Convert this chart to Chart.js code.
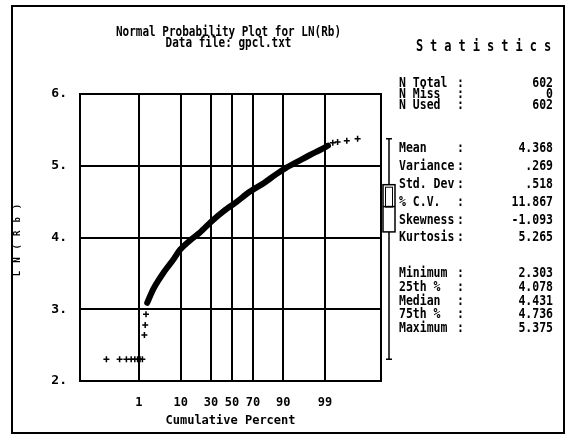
<!DOCTYPE html>
<html>
<head>
<meta charset="utf-8">
<script src="https://cdn.jsdelivr.net/npm/chart.js@4.4.1/dist/chart.umd.min.js"></script>
<style>
  body { margin: 0; background: #fff; }
  #wrap { width: 568px; height: 438px; position: relative; }
</style>
</head>
<body>
<div id="wrap"><canvas id="myChart" width="568" height="438"></canvas></div>
<script>
// Подписи оси X (накопленный процент)
const percentTicks = [1, 10, 30, 50, 70, 90, 99];
const percentLabels = ["1", "10", "30", "50", "70", "90", "99"];
const yTicks = [2, 3, 4, 5, 6];

// Плотная полоса точек: нормальные метки (z) и значения LN(Rb)
const bandScore = [-2.12, -1.95, -1.7, -1.47, -1.3, -1.05, -0.8, -0.5, -0.2, 0.1, 0.45, 0.8, 1.1, 1.35, 1.65, 1.95, 2.2, 2.4];
const bandValue = [3.09, 3.3, 3.52, 3.69, 3.83, 3.96, 4.07, 4.23, 4.37, 4.49, 4.64, 4.76, 4.88, 4.97, 5.06, 5.15, 5.22, 5.28];

// Отдельные точки на хвостах
const tailScore = [-3.14, -2.81, -2.64, -2.52, -2.43, -2.36, -2.3, -2.24, -2.19, -2.17, -2.15, 2.52, 2.64, 2.87, 3.14];
const tailValue = [2.303, 2.303, 2.303, 2.303, 2.303, 2.303, 2.303, 2.303, 2.64, 2.78, 2.93, 5.32, 5.33, 5.35, 5.375];

// Статистика
const statLabels = ["N Total", "N Miss", "N Used", "Mean", "Variance", "Std. Dev", "% C.V.", "Skewness", "Kurtosis", "Minimum", "25th %", "Median", "75th %", "Maximum"];
const statValues = ["602", "0", "602", "4.368", ".269", ".518", "11.867", "-1.093", "5.265", "2.303", "4.078", "4.431", "4.736", "5.375"];
const statRowY = [83, 94, 105, 148, 166, 184, 202, 220, 237, 273, 287, 301, 314, 328];
// Ящик с усами: минимум, 25%, медиана, 75%, максимум
const boxValues = [2.303, 4.078, 4.431, 4.736, 5.375];

const FONT = "'DejaVu Sans Mono', 'Liberation Mono', monospace";

// обратная функция нормального распределения (Acklam)
function probit(p) {
    const a = [-39.6968302866538, 220.946098424521, -275.928510446969, 138.357751867269, -30.6647980661472, 2.50662827745924];
    const b = [-54.4760987982241, 161.585836858041, -155.698979859887, 66.8013118877197, -13.2806815528857];
    const c = [-0.00778489400243029, -0.322396458041136, -2.40075827716184, -2.54973253934373, 4.37466414146497, 2.93816398269878];
    const d = [0.00778469570904146, 0.32246712907004, 2.445134137143, 3.75440866190742];
    let q, r;
    if (p < 0.02425) {
        q = Math.sqrt(-2 * Math.log(p));
        return (((((c[0]*q+c[1])*q+c[2])*q+c[3])*q+c[4])*q+c[5]) / ((((d[0]*q+d[1])*q+d[2])*q+d[3])*q+1);
    }
    if (p > 1 - 0.02425) {
        q = Math.sqrt(-2 * Math.log(1 - p));
        return -(((((c[0]*q+c[1])*q+c[2])*q+c[3])*q+c[4])*q+c[5]) / ((((d[0]*q+d[1])*q+d[2])*q+d[3])*q+1);
    }
    q = p - 0.5;
    r = q * q;
    return (((((a[0]*r+a[1])*r+a[2])*r+a[3])*r+a[4])*r+a[5])*q / (((((b[0]*r+b[1])*r+b[2])*r+b[3])*r+b[4])*r+1);
}

const tickScores = percentTicks.map(p => probit(p / 100));

// высокий узкий текст, как в старом шрифте
function tallText(ctx, text, x, y, align, size, sy) {
    ctx.save();
    ctx.translate(x, y);
    ctx.scale(1, sy);
    ctx.font = "bold " + size + "px " + FONT;
    ctx.textAlign = align;
    ctx.textBaseline = "middle";
    ctx.fillText(text, 0, 0);
    ctx.restore();
}

// рамка, заголовок, блок статистики, ящик с усами
const extras = {
    id: "extras",
    afterDraw(chart) {
        const ctx = chart.ctx;
        const area = chart.chartArea;
        const y = chart.scales.y;
        ctx.save();
        ctx.strokeStyle = "#000";
        ctx.fillStyle = "#000";
        // рамка области графика
        ctx.lineWidth = 2;
        ctx.strokeRect(area.left, area.top, area.right - area.left, area.bottom - area.top);
        // внешняя рамка
        ctx.strokeRect(12, 6, 552, 427);

        // заголовок
        const cx = (area.left + area.right) / 2 - 2;
        tallText(ctx, "Normal Probability Plot for LN(Rb)", cx, 33, "center", 11, 1.2);
        tallText(ctx, "Data file: gpcl.txt", cx, 44, "center", 11, 1.2);

        // подпись оси Y с разрядкой
        ctx.save();
        ctx.translate(18, 240);
        ctx.rotate(-Math.PI / 2);
        ctx.font = "bold 9px " + FONT;
        ctx.letterSpacing = "8px";
        ctx.textAlign = "center";
        ctx.textBaseline = "middle";
        ctx.fillText("LN(Rb)", 4, 0);
        ctx.restore();

        // статистика
        ctx.save();
        ctx.font = "bold 12px " + FONT;
        ctx.letterSpacing = "7px";
        ctx.textAlign = "center";
        ctx.textBaseline = "middle";
        ctx.translate(487, 47);
        ctx.scale(1, 1.25);
        ctx.fillText("Statistics", 0, 0);
        ctx.restore();
        statLabels.forEach((lab, i) => {
            const ry = statRowY[i];
            tallText(ctx, lab, 399, ry, "left", 11.5, 1.25);
            tallText(ctx, ":", 457, ry, "left", 11.5, 1.25);
            tallText(ctx, statValues[i], 553, ry, "right", 11.5, 1.25);
        });

        // ящик с усами
        const bx = 389, bw = 12;
        const py = boxValues.map(v => y.getPixelForValue(v));
        ctx.lineWidth = 1.5;
        ctx.beginPath();
        ctx.moveTo(bx, py[4]); ctx.lineTo(bx, py[3]);
        ctx.moveTo(bx, py[1]); ctx.lineTo(bx, py[0]);
        ctx.moveTo(bx - 3, py[4]); ctx.lineTo(bx + 3, py[4]);
        ctx.moveTo(bx - 3, py[0]); ctx.lineTo(bx + 3, py[0]);
        ctx.stroke();
        ctx.strokeRect(bx - bw / 2, py[3], bw, py[1] - py[3]);
        ctx.lineWidth = 1;
        ctx.strokeRect(bx - bw / 2 + 2.5, py[3] + 2.5, bw - 5, py[2] - py[3] - 2);
        ctx.lineWidth = 1.5;
        ctx.beginPath();
        ctx.moveTo(bx - bw / 2, py[2]); ctx.lineTo(bx + bw / 2, py[2]);
        ctx.stroke();
        ctx.restore();
    }
};

const ctx = document.getElementById("myChart").getContext("2d");
const chart = new Chart(ctx, {
    type: "scatter",
    data: {
        datasets: [
            {
                // плотная полоса
                data: bandScore.map((s, i) => ({x: s, y: bandValue[i]})),
                showLine: true,
                borderColor: "#000",
                borderWidth: 6,
                borderCapStyle: "round",
                tension: 0.3,
                pointRadius: 0
            },
            {
                data: tailScore.map((s, i) => ({x: s, y: tailValue[i]})),
                pointStyle: "cross",
                pointRadius: 3,
                borderColor: "#000",
                borderWidth: 1.5
            }
        ]
    },
    options: {
        responsive: false,
        animation: false,
        layout: {
            padding: {left: 11, right: 187, top: 94, bottom: 0}
        },
        plugins: {
            legend: {display: false},
            tooltip: {enabled: false}
        },
        scales: {
            x: {
                type: "linear",
                min: -3.8,
                max: 3.725,
                afterFit(scale) { scale.height = 57; },
                afterBuildTicks(scale) {
                    scale.ticks = tickScores.map(v => ({value: v}));
                },
                grid: {color: "#000", lineWidth: 2, drawTicks: false},
                border: {display: false},
                ticks: {
                    padding: 15,
                    color: "#000",
                    font: {family: FONT, size: 12, weight: "bold"},
                    callback: function(value, index) { return percentLabels[index]; }
                },
                title: {
                    display: true,
                    text: "Cumulative Percent",
                    color: "#000",
                    padding: {top: 0, bottom: 10},
                    font: {family: FONT, size: 12, weight: "bold"}
                }
            },
            y: {
                min: 2,
                max: 6,
                afterFit(scale) { scale.width = 69; },
                afterBuildTicks(scale) {
                    scale.ticks = yTicks.map(v => ({value: v}));
                },
                grid: {color: "#000", lineWidth: 2, drawTicks: false},
                border: {display: false},
                ticks: {
                    padding: 13,
                    color: "#000",
                    font: {family: FONT, size: 13, weight: "bold"},
                    callback: v => v + "."
                },
                title: {display: false}
            }
        }
    },
    plugins: [extras]
});
</script>
</body>
</html>
